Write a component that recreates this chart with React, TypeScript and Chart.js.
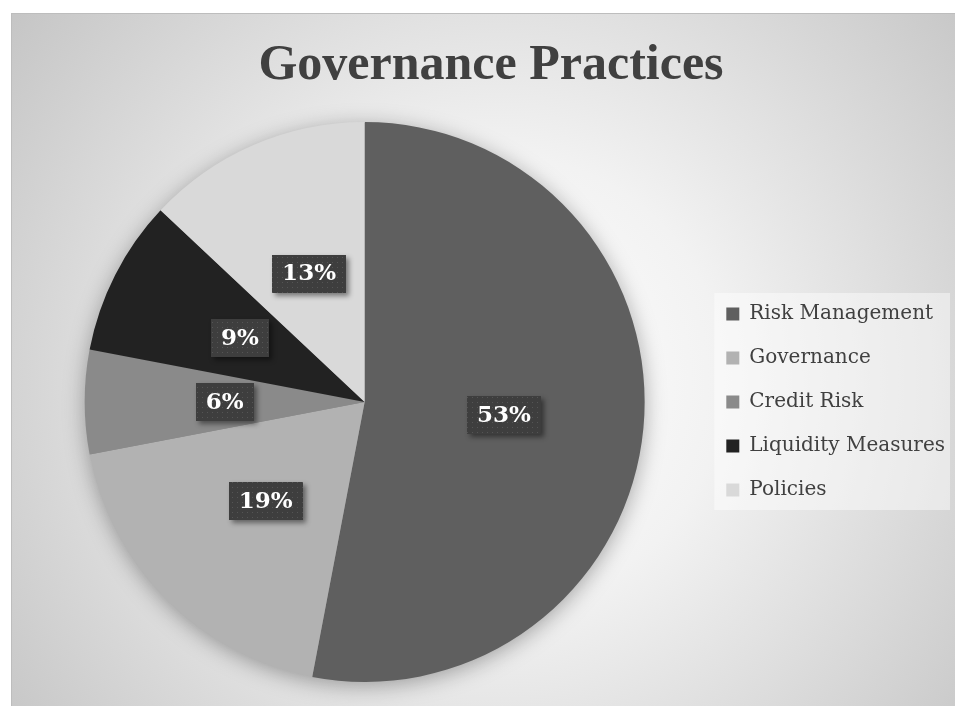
import React, { useEffect, useRef } from "react";
import { Chart, registerables } from "chart.js";

Chart.register(...registerables);

const categories = ["Risk Management", "Governance", "Credit Risk", "Liquidity Measures", "Policies"];
const shares = [53, 19, 6, 9, 13];
const sliceColors = ["#5f5f5f", "#b2b2b2", "#8a8a8a", "#222222", "#d9d9d9"];
const labelTexts = ["53%", "19%", "6%", "9%", "13%"];
const titleText = "Governance Practices";

const W = 955;
const H = 706;

const backgroundPlugin = {
  id: "bgFrame",
  beforeDraw(chart: any) {
    const ctx = chart.ctx as CanvasRenderingContext2D;
    ctx.save();
    ctx.fillStyle = "#ffffff";
    ctx.fillRect(0, 0, W, H);
    const fx = 11, fy = 13;
    const g = ctx.createRadialGradient(500, 380, 0, 500, 380, 640);
    g.addColorStop(0, "#ffffff");
    g.addColorStop(0.35, "#f2f2f2");
    g.addColorStop(1, "#c2c2c2");
    ctx.fillStyle = g;
    ctx.fillRect(fx, fy, W - fx, H - fy);
    ctx.strokeStyle = "#bdbdbd";
    ctx.lineWidth = 1;
    ctx.strokeRect(fx + 0.5, fy + 0.5, W - fx, H - fy);

    // legend background panel
    const lg = chart.legend;
    if (lg && lg.legendHitBoxes && lg.legendHitBoxes.length) {
      const hb = lg.legendHitBoxes;
      const left = hb[0].left - 12;
      const top = hb[0].top - 11;
      const bottom = hb[hb.length - 1].top + hb[hb.length - 1].height + 10;
      ctx.fillStyle = "rgba(255,255,255,0.45)";
      ctx.fillRect(left, top, W - 5 - left, bottom - top);
    }
    ctx.restore();
  },
};

const pieShadowPlugin = {
  id: "pieShadow",
  beforeDatasetsDraw(chart: any) {
    const meta = chart.getDatasetMeta(0);
    if (!meta.data.length) return;
    const arc = meta.data[0];
    const ctx = chart.ctx as CanvasRenderingContext2D;
    ctx.save();
    ctx.shadowColor = "rgba(0,0,0,0.35)";
    ctx.shadowBlur = 22;
    ctx.shadowOffsetY = 4;
    ctx.fillStyle = "#888888";
    ctx.beginPath();
    ctx.arc(arc.x, arc.y, arc.outerRadius - 1, 0, Math.PI * 2);
    ctx.fill();
    ctx.restore();
  },
};

let dotPattern: CanvasPattern | null = null;
function getPattern(ctx: CanvasRenderingContext2D) {
  if (dotPattern) return dotPattern;
  const c = document.createElement("canvas");
  c.width = 5;
  c.height = 5;
  const p = c.getContext("2d")!;
  p.fillStyle = "#3e3e3e";
  p.fillRect(0, 0, 5, 5);
  p.fillStyle = "#555555";
  p.fillRect(2, 2, 1, 1);
  dotPattern = ctx.createPattern(c, "repeat");
  return dotPattern;
}

const labelPlugin = {
  id: "sliceLabels",
  afterDatasetsDraw(chart: any) {
    const ctx = chart.ctx as CanvasRenderingContext2D;
    const meta = chart.getDatasetMeta(0);
    ctx.save();
    ctx.font = "bold 23px 'DejaVu Serif'";
    ctx.textAlign = "center";
    ctx.textBaseline = "middle";
    meta.data.forEach((arc: any, i: number) => {
      const mid = (arc.startAngle + arc.endAngle) / 2;
      const r = arc.outerRadius * 0.5;
      const cx = arc.x + Math.cos(mid) * r;
      const cy = arc.y + Math.sin(mid) * r;
      const text = labelTexts[i];
      const tw = ctx.measureText(text).width;
      const bw = tw + 20;
      const bh = 38;
      const bx = Math.round(cx - bw / 2);
      const by = Math.round(cy - bh / 2);
      ctx.save();
      ctx.shadowColor = "rgba(0,0,0,0.45)";
      ctx.shadowBlur = 5;
      ctx.shadowOffsetX = 3;
      ctx.shadowOffsetY = 3;
      ctx.fillStyle = "#3e3e3e";
      ctx.fillRect(bx, by, bw, bh);
      ctx.restore();
      ctx.fillStyle = getPattern(ctx) || "#3e3e3e";
      ctx.fillRect(bx, by, bw, bh);
      ctx.fillStyle = "#ffffff";
      ctx.fillText(text, cx, cy + 1);
    });
    ctx.restore();
  },
};

export default function App() {
  const ref = useRef<HTMLCanvasElement | null>(null);
  useEffect(() => {
    if (!ref.current) return;
    const chart = new Chart(ref.current, {
      type: "pie",
      data: {
        labels: categories,
        datasets: [
          {
            data: shares,
            backgroundColor: sliceColors,
            borderWidth: 0,
          },
        ],
      },
      options: {
        responsive: false,
        animation: false,
        layout: { padding: { left: 27, right: 0, top: 0, bottom: 24 } },
        plugins: {
          title: {
            display: true,
            text: titleText,
            color: "#404040",
            font: { family: "'Liberation Serif'", size: 50, weight: "bold" },
            padding: { top: 36, bottom: 26 },
          },
          legend: {
            position: "right",
            align: "center",
            fullSize: false,
            labels: {
              boxWidth: 13,
              boxHeight: 13,
              padding: 24,
              color: "#404040",
              font: { family: "'DejaVu Serif'", size: 20 },
            },
          },
          tooltip: { enabled: false },
        },
      },
      plugins: [backgroundPlugin, pieShadowPlugin, labelPlugin],
    } as any);
    return () => chart.destroy();
  }, []);
  return (
    <div style={{ position: "absolute", left: 0, top: 0, width: W, height: H, overflow: "hidden" }}>
      <canvas ref={ref} width={W} height={H} style={{ display: "block" }} />
    </div>
  );
}
